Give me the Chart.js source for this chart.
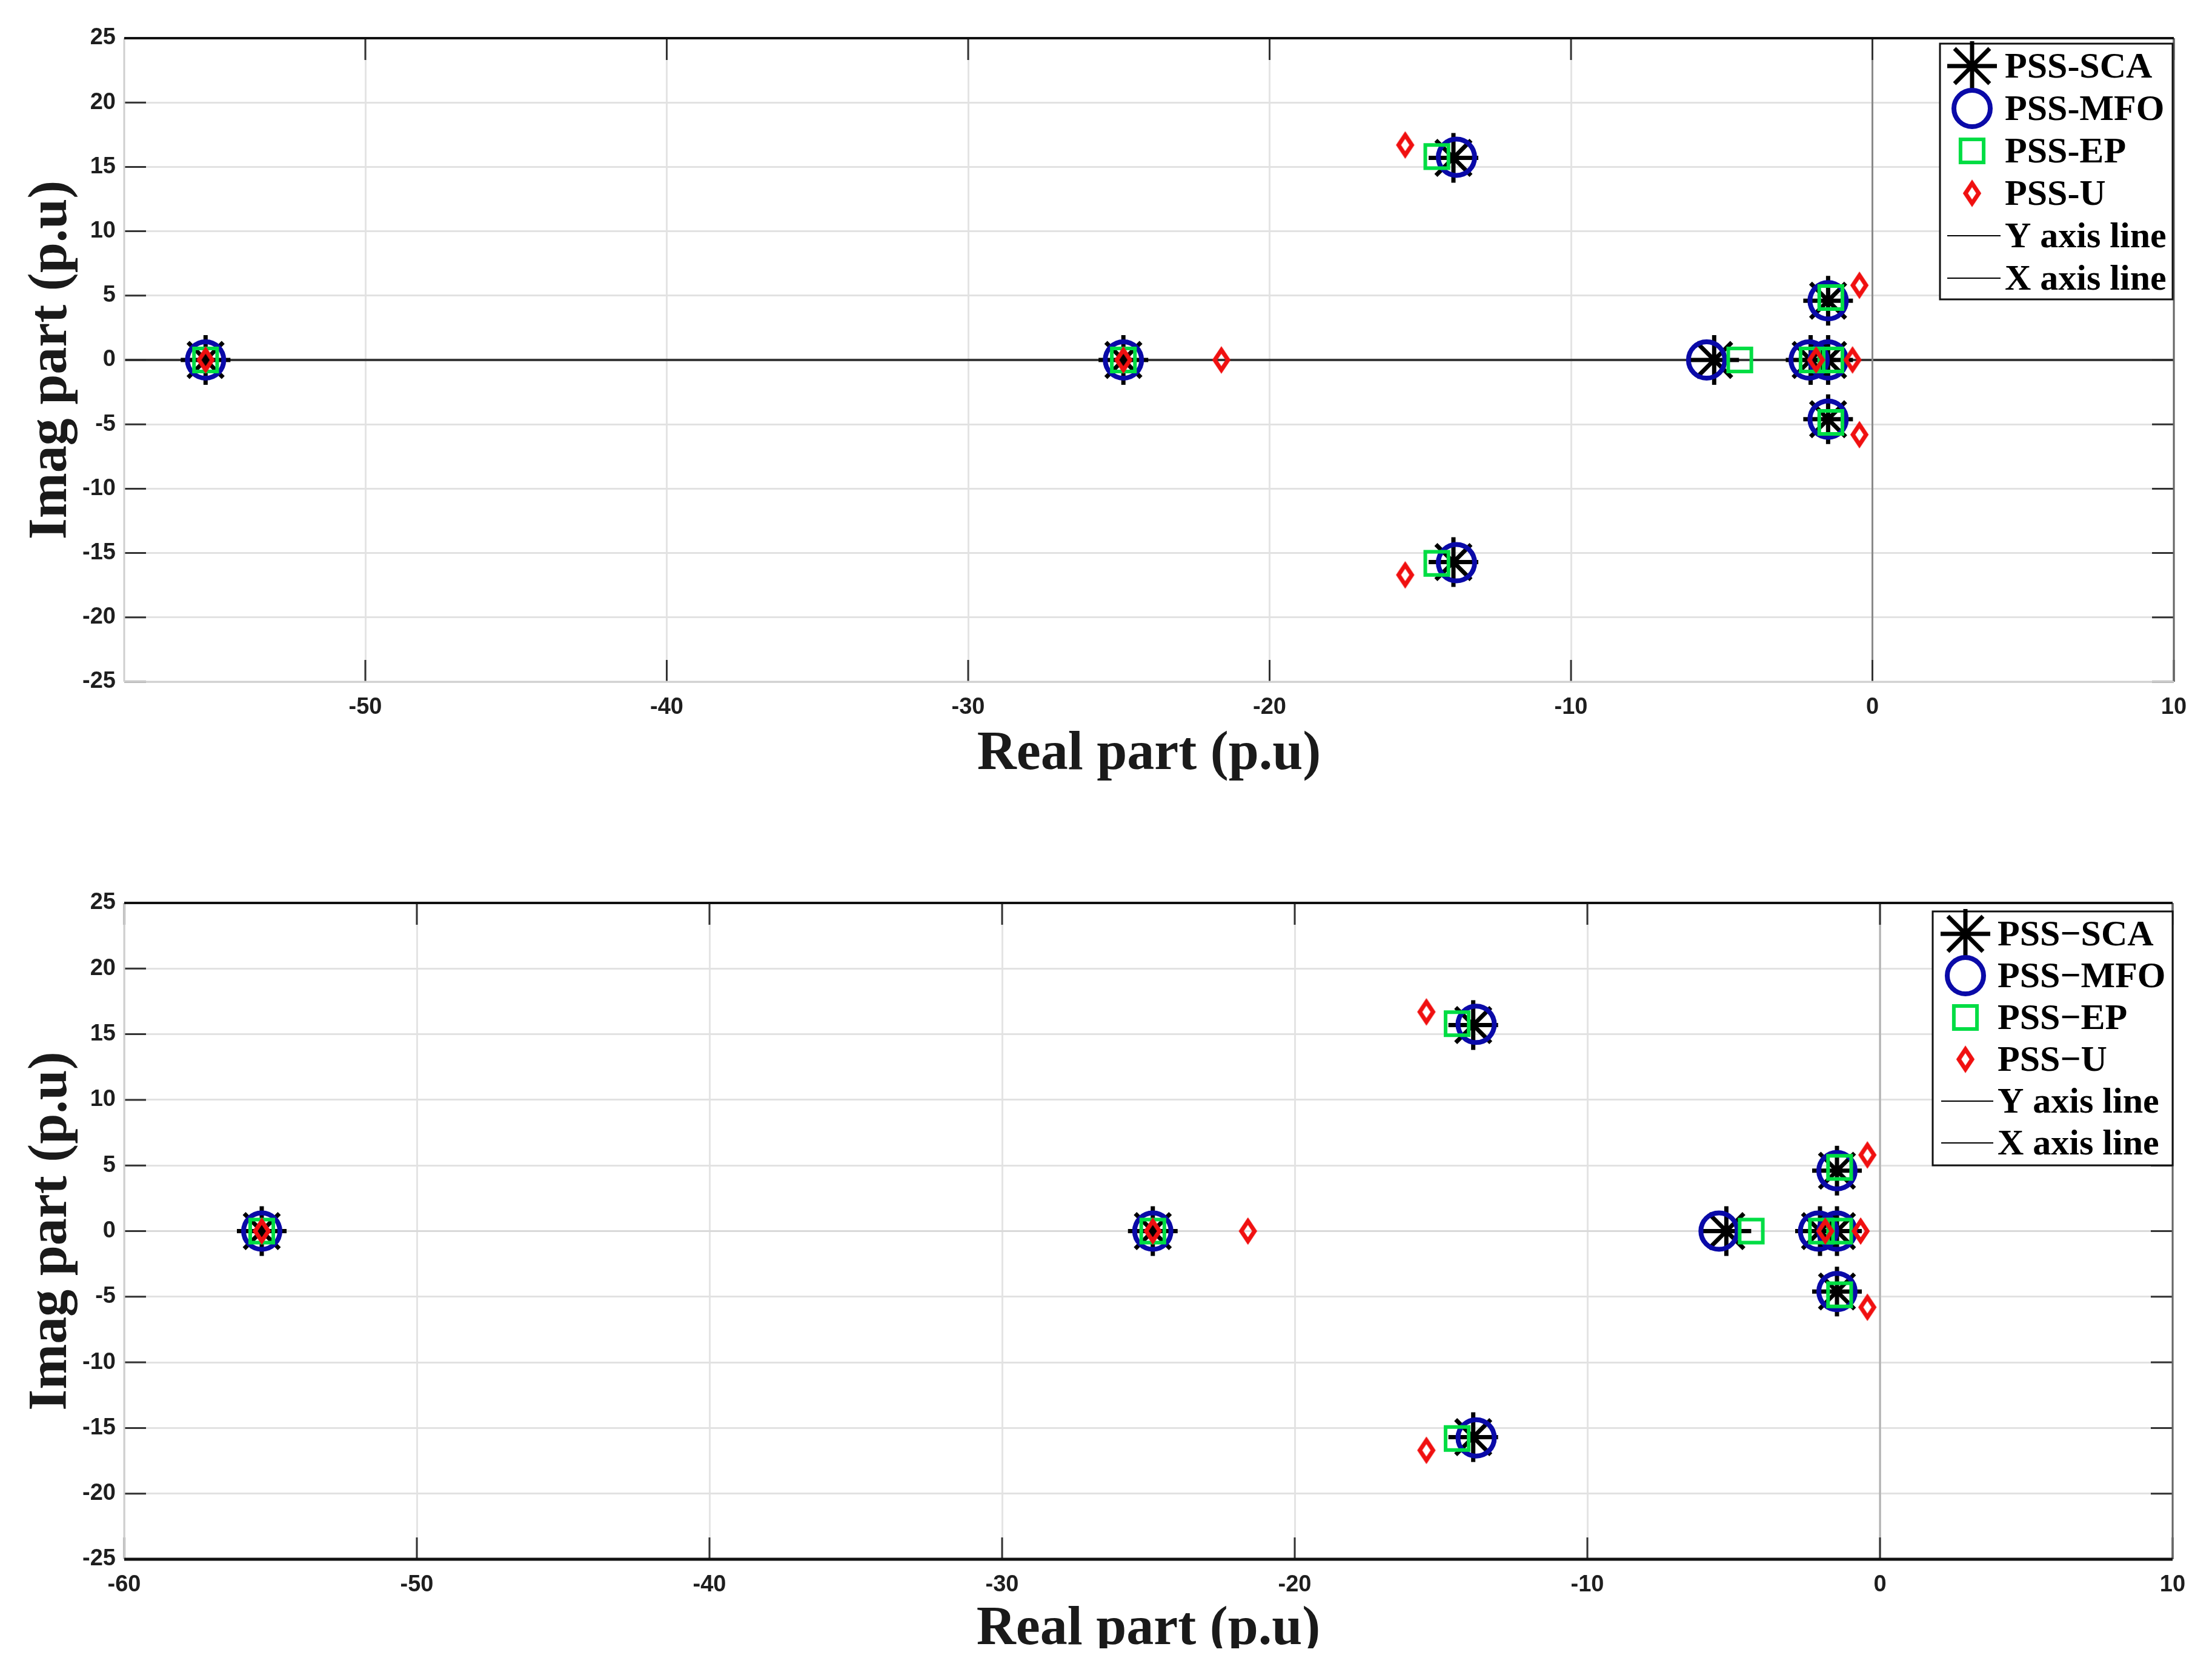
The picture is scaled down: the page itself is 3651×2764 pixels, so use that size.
<!DOCTYPE html>
<html>
<head>
<meta charset="utf-8">
<script src="https://cdn.jsdelivr.net/npm/chart.js@4.4.1/dist/chart.umd.min.js"></script>
<style>
  body { margin: 0; background: #fff; width: 3651px; height: 2764px; overflow: hidden; position: relative; }
  canvas { position: absolute; left: 0; }
  #topChart { top: 0; }
  #bottomChart { top: 1300px; }
</style>
</head>
<body>
<canvas id="topChart" width="3651" height="1300"></canvas>
<canvas id="bottomChart" width="3651" height="1420"></canvas>
<script>
// eigenvalues (real part / imag part)
const scaRe = [-55.3, -24.85, -13.9, -13.9, -5.25, -2.05, -1.47, -1.47, -1.47];
const scaIm = [0, 0, 15.7, -15.7, 0, 0, 0, 4.6, -4.6];
const mfoRe = [-55.3, -24.85, -13.8, -13.8, -5.5, -2.1, -1.47, -1.47, -1.47];
const mfoIm = [0, 0, 15.75, -15.75, 0, 0, 0, 4.6, -4.6];
const epRe = [-55.3, -24.85, -14.45, -14.45, -4.4, -2.0, -1.38, -1.38, -1.38];
const epIm = [0, 0, 15.8, -15.8, 0, 0, 0, 4.85, -4.85];
const uRe = [-55.3, -24.85, -21.6, -15.5, -15.5, -1.87, -0.66, -0.43, -0.43];
const uIm = [0, 0, 0, 16.7, -16.7, 0, 0, 5.8, -5.8];

const xTicksTop = [-50, -40, -30, -20, -10, 0, 10];
const xTicksBottom = [-60, -50, -40, -30, -20, -10, 0, 10];
const yTicks = [-25, -20, -15, -10, -5, 0, 5, 10, 15, 20, 25];

const namesTop = ['PSS-SCA', 'PSS-MFO', 'PSS-EP', 'PSS-U', 'Y axis line', 'X axis line'];
const namesBottom = ['PSS\u2212SCA', 'PSS\u2212MFO', 'PSS\u2212EP', 'PSS\u2212U', 'Y axis line', 'X axis line'];

Chart.defaults.font.family = '"Liberation Sans", Arial, sans-serif';

const pts = (re, im) => re.map((x, i) => ({ x: x, y: im[i] }));

function diamondMark(w, h, lw, color) {
  const c = document.createElement('canvas');
  c.width = w + lw * 2;
  c.height = h + lw * 2;
  const g = c.getContext('2d');
  g.strokeStyle = color;
  g.lineWidth = lw;
  g.beginPath();
  g.moveTo(c.width / 2, lw);
  g.lineTo(c.width - lw, c.height / 2);
  g.lineTo(c.width / 2, c.height - lw);
  g.lineTo(lw, c.height / 2);
  g.closePath();
  g.stroke();
  return c;
}
const diamond = diamondMark(22, 33, 7, '#f01010');

// inward tick marks + axes box, matlab style
const axesBox = {
  id: 'axesBox',
  afterDatasetsDraw(chart, args, o) {
    const { ctx, chartArea: a, scales: { x, y } } = chart;
    ctx.save();
    ctx.strokeStyle = '#333';
    ctx.lineWidth = 3;
    ctx.beginPath();
    x.ticks.forEach(t => {
      const px = x.getPixelForValue(t.value);
      ctx.moveTo(px, a.bottom); ctx.lineTo(px, a.bottom - 36);
      ctx.moveTo(px, a.top); ctx.lineTo(px, a.top + 36);
    });
    y.ticks.forEach(t => {
      const py = y.getPixelForValue(t.value);
      ctx.moveTo(a.left, py); ctx.lineTo(a.left + 36, py);
      ctx.moveTo(a.right, py); ctx.lineTo(a.right - 36, py);
    });
    ctx.stroke();
    const side = (s, x0, y0, x1, y1) => {
      ctx.strokeStyle = s[0]; ctx.lineWidth = s[1];
      ctx.beginPath(); ctx.moveTo(x0, y0); ctx.lineTo(x1, y1); ctx.stroke();
    };
    side(o.left, a.left, a.top, a.left, a.bottom);
    side(o.right, a.right, a.top, a.right, a.bottom);
    side(o.bottom, a.left, a.bottom, a.right, a.bottom);
    side(o.top, a.left, a.top, a.right, a.top);
    ctx.restore();
  }
};

const boxLegend = {
  id: 'boxLegend',
  afterDraw(chart, args, o) {
    const ctx = chart.ctx;
    ctx.save();
    ctx.fillStyle = '#fff';
    ctx.fillRect(o.left, o.top, o.right - o.left, o.bottom - o.top);
    ctx.strokeStyle = '#111';
    ctx.lineWidth = 3;
    ctx.strokeRect(o.left, o.top, o.right - o.left, o.bottom - o.top);
    chart.data.datasets.forEach((ds, i) => {
      const yy = o.firstRow + i * o.rowStep;
      if (ds.showLine) {
        ctx.strokeStyle = '#000';
        ctx.lineWidth = 2;
        ctx.beginPath(); ctx.moveTo(o.lineX0, yy); ctx.lineTo(o.lineX1, yy); ctx.stroke();
      } else {
        ctx.strokeStyle = ds.pointBorderColor;
        ctx.fillStyle = 'rgba(0,0,0,0)';
        ctx.lineWidth = ds.pointBorderWidth;
        Chart.helpers.drawPoint(ctx, { pointStyle: ds.pointStyle, rotation: 0, radius: ds.pointRadius, borderWidth: ds.pointBorderWidth }, o.markerX, yy);
      }
      ctx.fillStyle = '#000';
      ctx.font = 'bold 60px "Liberation Serif", "Times New Roman", serif';
      ctx.textBaseline = 'middle';
      ctx.textAlign = 'left';
      ctx.fillText(ds.label, o.textX, yy + 3);
    });
    ctx.restore();
  }
};

function makeDatasets(names, xMin, lineStyle) {
  return [
    { label: names[0], data: pts(scaRe, scaIm), pointStyle: 'star', pointRadius: 41, pointBorderWidth: 7,
      pointBorderColor: '#000', pointBackgroundColor: 'rgba(0,0,0,0)', order: 4 },
    { label: names[1], data: pts(mfoRe, mfoIm), pointStyle: 'circle', pointRadius: 30, pointBorderWidth: 8,
      pointBorderColor: '#0a0aa8', pointBackgroundColor: 'rgba(0,0,0,0)', order: 3 },
    { label: names[2], data: pts(epRe, epIm), pointStyle: 'rect', pointRadius: 27, pointBorderWidth: 6,
      pointBorderColor: '#00dd44', pointBackgroundColor: 'rgba(0,0,0,0)', order: 2 },
    { label: names[3], data: pts(uRe, uIm), pointStyle: diamond, pointRadius: 20, pointBorderWidth: 7,
      pointBorderColor: '#f01010', pointBackgroundColor: 'rgba(0,0,0,0)', order: 1 },
    { label: names[4], data: [{ x: 0, y: -25 }, { x: 0, y: 25 }], showLine: true, pointRadius: 0,
      borderColor: lineStyle.y[0], borderWidth: lineStyle.y[1], order: 5 },
    { label: names[5], data: [{ x: xMin, y: 0 }, { x: 10, y: 0 }], showLine: true, pointRadius: 0,
      borderColor: lineStyle.x[0], borderWidth: lineStyle.x[1], order: 6 }
  ];
}

function makeChart(id, c) {
  return new Chart(document.getElementById(id), {
    type: 'scatter',
    data: { datasets: makeDatasets(c.names, c.xMin, c.axisLines) },
    plugins: [axesBox, boxLegend],
    options: {
      responsive: false,
      animation: false,
      events: [],
      layout: { padding: c.pad },
      plugins: {
        legend: { display: false },
        tooltip: { enabled: false },
        axesBox: c.frame,
        boxLegend: c.legend
      },
      scales: {
        x: {
          type: 'linear', min: c.xMin, max: 10,
          afterBuildTicks: s => { s.ticks = c.xTicks.map(v => ({ value: v })); },
          afterFit: s => { s.height = c.xHeight; },
          grid: { color: '#e4e4e4', lineWidth: 3, drawTicks: false },
          border: { display: false },
          ticks: { padding: 20, color: '#1e1e1e', font: { size: 38, weight: 'bold' }, maxRotation: 0, autoSkip: false },
          title: { display: true, text: 'Real part (p.u)', color: '#1a1a1a',
                   font: { family: '"Liberation Serif", "Times New Roman", serif', size: 90, weight: 'bold' },
                   padding: { top: 0, bottom: c.titlePad } }
        },
        y: {
          type: 'linear', min: -25, max: 25,
          afterBuildTicks: s => { s.ticks = yTicks.map(v => ({ value: v })); },
          afterFit: s => { s.width = 205; },
          grid: { color: '#e2e2e2', lineWidth: 3, drawTicks: false },
          border: { display: false },
          ticks: { padding: 14, color: '#1e1e1e', font: { size: 38, weight: 'bold' } },
          title: { display: true, text: 'Imag part (p.u)', color: '#1a1a1a',
                   font: { family: '"Liberation Serif", "Times New Roman", serif', size: 90, weight: 'bold' },
                   padding: { top: 32, bottom: 0 } }
        }
      }
    }
  });
}

makeChart('topChart', {
  names: namesTop, xMin: -58, xTicks: xTicksTop,
  pad: { top: 63, right: 63, bottom: 0, left: 0 }, xHeight: 175, titlePad: 0,
  axisLines: { y: ['#8a8a8a', 3], x: ['#3a3a3a', 4] },
  frame: { top: ['#111', 4], right: ['#666', 3], bottom: ['#d0d0d0', 3], left: ['#cfcfcf', 3] },
  legend: { left: 3202, top: 72, right: 3586, bottom: 494, firstRow: 109, rowStep: 70,
            markerX: 3255, textX: 3309, lineX0: 3214, lineX1: 3302 }
});

makeChart('bottomChart', {
  names: namesBottom, xMin: -60, xTicks: xTicksBottom,
  pad: { top: 190, right: 65, bottom: 0, left: 0 }, xHeight: 147, titlePad: -24,
  axisLines: { y: ['#b0b0b0', 3], x: ['#d9d9d9', 3] },
  frame: { top: ['#111', 4], right: ['#666', 3], bottom: ['#111', 5], left: ['#cfcfcf', 3] },
  legend: { left: 3190, top: 204, right: 3586, bottom: 623, firstRow: 241, rowStep: 69,
            markerX: 3244, textX: 3297, lineX0: 3204, lineX1: 3290 }
});
</script>
</body>
</html>
